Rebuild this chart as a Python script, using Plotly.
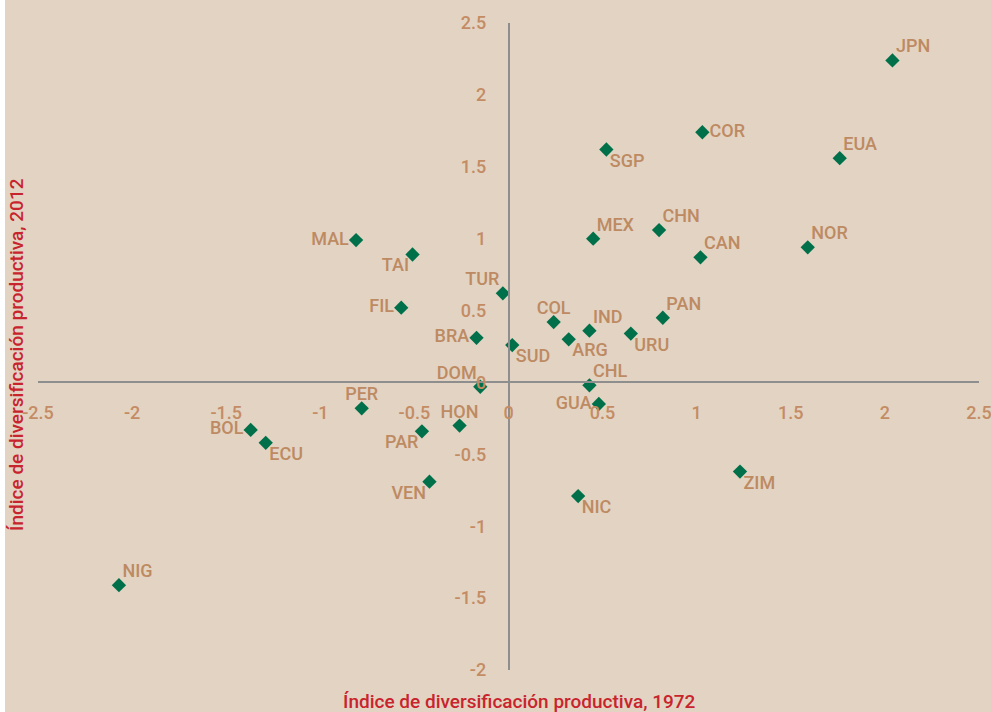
import plotly.graph_objects as go

countries = ["JPN", "COR", "SGP", "EUA", "MEX", "CHN", "CAN", "NOR", "MAL", "TAI",
             "FIL", "TUR", "COL", "IND", "PAN", "BRA", "SUD", "ARG", "URU", "DOM",
             "CHL", "GUA", "PER", "HON", "BOL", "ECU", "PAR", "VEN", "NIC", "ZIM", "NIG"]
div_1972 = [2.04, 1.03, 0.52, 1.76, 0.45, 0.80, 1.02, 1.59, -0.81, -0.51,
            -0.57, -0.03, 0.24, 0.43, 0.82, -0.17, 0.02, 0.32, 0.65, -0.15,
            0.43, 0.48, -0.78, -0.26, -1.37, -1.29, -0.46, -0.42, 0.37, 1.23, -2.07]
div_2012 = [2.24, 1.74, 1.62, 1.56, 1.00, 1.06, 0.87, 0.94, 0.99, 0.89,
            0.52, 0.62, 0.42, 0.36, 0.45, 0.31, 0.26, 0.30, 0.34, -0.03,
            -0.02, -0.15, -0.18, -0.30, -0.33, -0.42, -0.34, -0.69, -0.79, -0.62, -1.41]
label_pos = ["top right", "middle right", "bottom right", "top right", "top right",
             "top right", "top right", "top right", "middle left", "bottom left",
             "middle left", "top left", "top center", "top right", "top right",
             "middle left", "bottom right", "bottom right", "bottom right", "top left",
             "top right", "middle left", "top center", "top center", "middle left",
             "bottom right", "bottom left", "bottom left", "bottom right", "bottom right",
             "top right"]

x_ticks = [-2.5, -2, -1.5, -1, -0.5, 0, 0.5, 1, 1.5, 2, 2.5]
x_tick_text = ["-2.5", "-2", "-1.5", "-1", "-0.5", "0", "0.5", "1", "1.5", "2", "2.5"]
y_ticks = [-2, -1.5, -1, -0.5, 0, 0.5, 1, 1.5, 2, 2.5]
y_tick_text = ["-2", "-1.5", "-1", "-0.5", "0", "0.5", "1", "1.5", "2", "2.5"]

x_title = "Índice de diversificación productiva, 1972"
y_title = "Índice de diversificación productiva, 2012"

BG = "#E3D3C2"
GREEN = "#00704A"
TAN = "#BD8A62"
TICK = "#C48C64"
RED = "#C8242D"
AXIS = "#8E8E8E"
FONT = "Roboto"

x_range = [-2.5, 2.5]
y_range = [-2, 2.5]

fig = go.Figure()
fig.add_trace(go.Scatter(
    x=div_1972, y=div_2012, mode="markers",
    marker=dict(symbol="diamond", size=11, color=GREEN),
    cliponaxis=False, hoverinfo="skip", showlegend=False,
))

# labels: side labels (middle) need a wider offset than above/below labels
groups = [
    ([i for i, p in enumerate(label_pos) if p.startswith("middle")], 10),
    ([i for i, p in enumerate(label_pos) if not p.startswith("middle")], 4),
]
for idx, offset_size in groups:
    fig.add_trace(go.Scatter(
        x=[div_1972[i] for i in idx], y=[div_2012[i] for i in idx],
        text=[countries[i] for i in idx], mode="markers+text",
        textposition=[label_pos[i] for i in idx],
        marker=dict(size=offset_size, color="rgba(0,0,0,0)"),
        textfont=dict(family=FONT, size=18, color=TAN, weight=500),
        cliponaxis=False, hoverinfo="x+y+text", showlegend=False,
    ))

tickfont = dict(family=FONT, size=18, color=TICK, weight=500)

fig.update_layout(
    width=991, height=712,
    margin=dict(l=38, r=12, t=23, b=42, autoexpand=False),
    paper_bgcolor=BG, plot_bgcolor=BG,
    font=dict(family=FONT, color=TICK),
    xaxis=dict(
        range=x_range, tickvals=x_ticks, ticktext=x_tick_text, automargin=False,
        showgrid=False, zeroline=False, showline=True, linecolor=AXIS, linewidth=1.5,
        anchor="free", position=(0 - y_range[0]) / (y_range[1] - y_range[0]),
        ticks="outside", ticklen=14, tickcolor="rgba(0,0,0,0)",
        ticklabeloverflow="allow", tickfont=tickfont,
    ),
    yaxis=dict(
        range=y_range, tickvals=y_ticks, ticktext=y_tick_text, automargin=False,
        showgrid=False, zeroline=False, showline=True, linecolor=AXIS, linewidth=1.5,
        anchor="free", position=(0 - x_range[0]) / (x_range[1] - x_range[0]),
        ticks="outside", ticklen=18, tickcolor="rgba(0,0,0,0)",
        ticklabeloverflow="allow", tickfont=tickfont,
    ),
    annotations=[
        dict(text=x_title, xref="paper", yref="paper", x=0.512, y=0, yshift=-31,
             showarrow=False, xanchor="center", yanchor="middle",
             font=dict(family=FONT, size=19, color=RED, weight=500)),
        dict(text=y_title, xref="paper", yref="paper", x=0, y=0.487, xshift=-21,
             textangle=-90, showarrow=False, xanchor="center", yanchor="middle",
             font=dict(family=FONT, size=19, color=RED, weight=500)),
    ],
    shapes=[
        dict(type="rect", xref="paper", yref="paper", x0=-38 / 941, x1=-33 / 941,
             y0=-0.1, y1=1.1, fillcolor="white", line=dict(width=0), layer="below"),
    ],
)

fig.write_html("out.html", config={"displayModeBar": False},
               post_script="document.body.style.margin='0';document.body.style.overflow='hidden';")
